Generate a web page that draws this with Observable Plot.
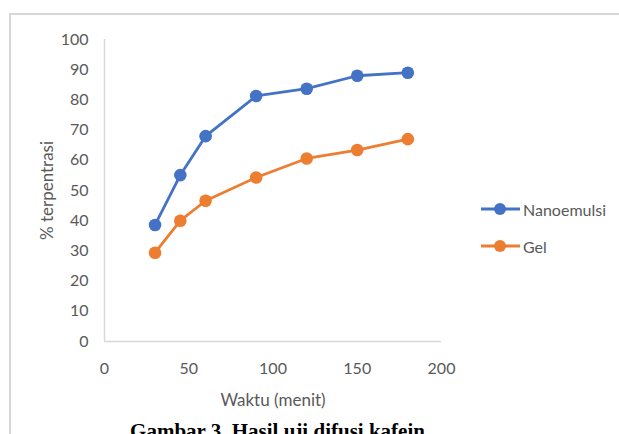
<!DOCTYPE html>
<html>
<head>
<meta charset="utf-8">
<script src="https://cdn.jsdelivr.net/npm/d3@7"></script>
<script src="https://cdn.jsdelivr.net/npm/@observablehq/plot@0.6"></script>
<style>
  html, body { margin: 0; padding: 0; background: #fff; }
  #wrap { position: relative; width: 619px; height: 434px; overflow: hidden; background: #fff; }
  #frame { position: absolute; left: 9px; top: 13px; width: 700px; height: 500px;
           border-top: 2px solid #d6d6d6; border-left: 2px solid #d6d6d6; }
  #chart { position: absolute; left: 0; top: 0; }
  #chart [aria-label="x-axis label"] text, #chart [aria-label="y-axis label"] text { font-size: 17px; }
  #legend { position: absolute; left: 480px; top: 196px; font-family: Lato, sans-serif; font-size: 16px; color: #595959; }
  .row { display: flex; align-items: center; height: 26px; margin-bottom: 11px; }
  .row svg { margin-right: 3px; }
  #caption { position: absolute; left: 0; width: 555px; top: 421px; text-align: center;
             font-family: "Liberation Serif", "Times New Roman", serif; font-weight: bold; font-size: 21px; line-height: 1; color: #000; }
</style>
</head>
<body>
<div id="wrap">
  <div id="frame"></div>
  <div id="chart"></div>
  <div id="legend"></div>
  <div id="caption"></div>
</div>
<script>
const times = [30, 45, 60, 90, 120, 150, 180];
const nanoemulsi = [38.6, 55.1, 68.0, 81.3, 83.7, 88.0, 89.0];
const gel = [29.4, 40.0, 46.6, 54.3, 60.6, 63.4, 67.0];
const seriesNames = ["Nanoemulsi", "Gel"];
const seriesColors = ["#4472C4", "#ED7D31"];
const xTicks = [0, 50, 100, 150, 200];
const yTicks = [0, 10, 20, 30, 40, 50, 60, 70, 80, 90, 100];
const xLabel = "Waktu (menit)";
const yLabel = "% terpentrasi";
const captionText = "Gambar 3. Hasil uji difusi kafein";

const rows = [];
times.forEach((t, i) => rows.push({t, v: nanoemulsi[i], s: seriesNames[0]}));
times.forEach((t, i) => rows.push({t, v: gel[i], s: seriesNames[1]}));

const plot = Plot.plot({
  width: 619,
  height: 434,
  marginLeft: 104,
  marginRight: 178,
  marginTop: 39,
  marginBottom: 93,
  style: { fontFamily: "Lato, sans-serif", fontSize: "16px", color: "#595959", background: "transparent" },
  x: { domain: [0, 200], ticks: xTicks, tickSize: 0, tickPadding: 21, label: xLabel,
       labelAnchor: "center", labelOffset: 64, labelArrow: "none" },
  y: { domain: [0, 100], ticks: yTicks, tickSize: 0, tickPadding: 16, label: yLabel,
       labelAnchor: "center", labelOffset: 64, labelArrow: "none" },
  color: { domain: seriesNames, range: seriesColors },
  marks: [
    Plot.ruleX([0], { stroke: "#d9d9d9", strokeWidth: 1.5 }),
    Plot.ruleY([0], { stroke: "#d9d9d9", strokeWidth: 1.5 }),
    Plot.line(rows, { x: "t", y: "v", z: "s", stroke: "s", strokeWidth: 2.8 }),
    Plot.dot(rows, { x: "t", y: "v", fill: "s", r: 6.3 })
  ]
});
document.getElementById("chart").appendChild(plot);

const legend = document.getElementById("legend");
seriesNames.forEach((name, i) => {
  const row = document.createElement("div");
  row.className = "row";
  row.innerHTML = `<svg width="40" height="14"><line x1="1" y1="7" x2="40" y2="7" stroke="${seriesColors[i]}" stroke-width="2.8"/><circle cx="20" cy="7" r="6" fill="${seriesColors[i]}"/></svg><span>${name}</span>`;
  legend.appendChild(row);
});
document.getElementById("caption").textContent = captionText;
</script>
</body>
</html>
